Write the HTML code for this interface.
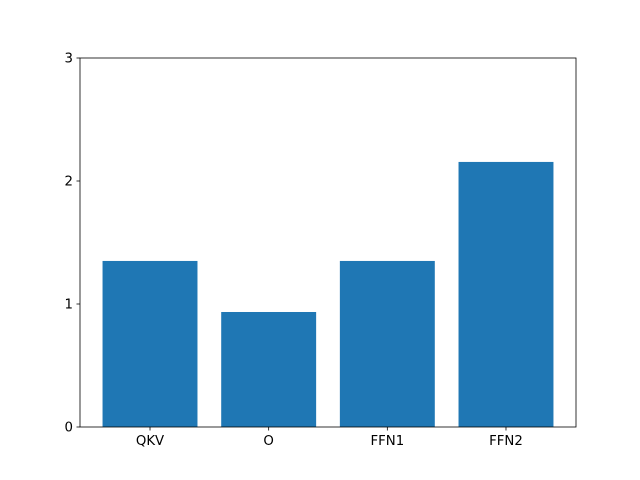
<!DOCTYPE html>
<html><head><meta charset="utf-8"><style>
body{margin:0;background:#fff;}
svg{display:block;font-family:"DejaVu Sans","Liberation Sans",sans-serif;}
</style></head><body>
<svg id="chart" width="640" height="480">
<rect width="640" height="480" fill="#fff"/>
</svg>
<script>
const categories=["QKV","O","FFN1","FFN2"];
const values=[1.35,0.935,1.35,2.155];
const yTicks=[0,1,2,3];
const L=80,R=576,T=58,B=427;
const xMin=-0.59,xMax=3.59,yMin=0,yMax=3;
const xs=v=>L+(v-xMin)/(xMax-xMin)*(R-L);
const ys=v=>B-(v-yMin)/(yMax-yMin)*(B-T);
const svg=document.getElementById('chart');
const NS='http://www.w3.org/2000/svg';
function mk(t,a){const e=document.createElementNS(NS,t);for(const k in a)e.setAttribute(k,a[k]);svg.appendChild(e);return e;}
categories.forEach((c,i)=>{
  const r=mk('rect',{x:xs(i-0.4),y:ys(values[i]),width:xs(i+0.4)-xs(i-0.4),height:ys(0)-ys(values[i]),fill:'#1f77b4'});
  
  
  const tk=mk('line',{x1:xs(i),x2:xs(i),y1:B,y2:B+3.5,stroke:'#000','stroke-width':0.8});
  
  
  const t=mk('text',{x:xs(i),y:B+18,'text-anchor':'middle','font-size':'13.3px'});
  t.textContent=c;
  
  
});
yTicks.forEach(v=>{
  const tk=mk('line',{x1:L-3.5,x2:L,y1:ys(v),y2:ys(v),stroke:'#000','stroke-width':0.8});
  
  
  const t=mk('text',{x:L-7,y:ys(v)+4.5,'text-anchor':'end','font-size':'13.3px'});
  t.textContent=v;
  
  
});
const f=mk('rect',{x:L,y:T,width:R-L,height:B-T,fill:'none',stroke:'#000','stroke-width':0.8});


</script>
</body></html>
